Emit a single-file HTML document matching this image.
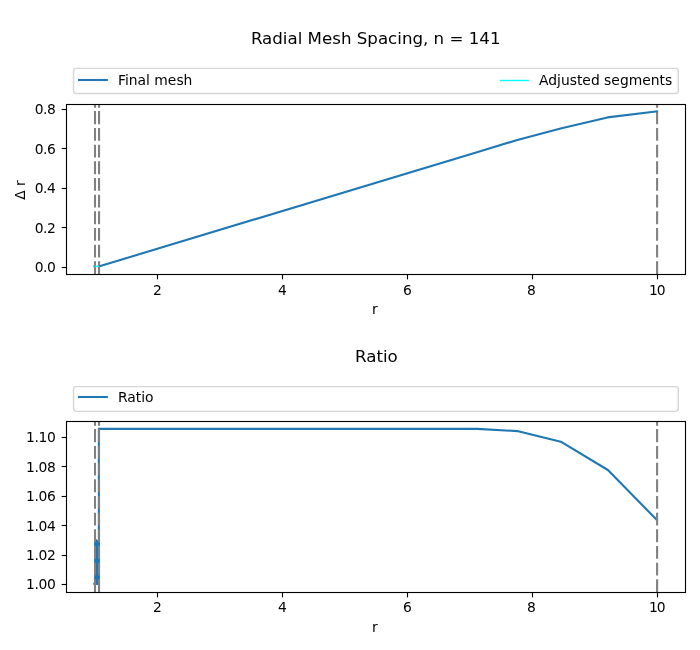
<!DOCTYPE html>
<html><head><meta charset="utf-8"><title>Radial Mesh Spacing</title>
<style>html,body{margin:0;padding:0;background:#fff}svg{display:block}</style></head>
<body>
<svg width="700" height="650" viewBox="0 0 700 650" font-family='"DejaVu Sans","Liberation Sans",sans-serif' fill="#000">
<rect width="700" height="650" fill="#fff"/>
<text x="375.7" y="43.6" font-size="16.667" text-anchor="middle">Radial Mesh Spacing, n = 141</text>
<clipPath id="c104"><rect x="66.5" y="104.5" width="619.0" height="170.0"/></clipPath>
<g clip-path="url(#c104)" fill="none">
<path d="M95 274.2V104.5" stroke="#808080" stroke-width="2.08" stroke-dasharray="12.9 3.767 12.9 3.767 12.9 3.767 12.9 3.767 12.9 3.767 12.9 3.767 12.9 3.767 12.9 3.767 12.9 3.767 13.2 3.2 20 0"/>
<path d="M99.05 274.2V104.5" stroke="#808080" stroke-width="2.08" stroke-dasharray="12.9 3.767 12.9 3.767 12.9 3.767 12.9 3.767 12.9 3.767 12.9 3.767 12.9 3.767 12.9 3.767 12.9 3.767 13.2 3.2 20 0"/>
<path d="M657.1 274.2V104.5" stroke="#808080" stroke-width="2.08" stroke-dasharray="12.9 3.767 12.9 3.767 12.9 3.767 12.9 3.767 12.9 3.767 12.9 3.767 12.9 3.767 12.9 3.767 12.9 3.767 13.2 3.2 20 0"/>
<polyline points="99.50,266.25 477.80,151.93 517.30,140.00 561.60,128.20 607.50,117.40 657.90,111.16" stroke="#1f77b4" stroke-width="2.08" stroke-linecap="butt" stroke-linejoin="round"/>
<path d="M93.3 266.4h1.4" stroke="#1f77b4" stroke-width="1.9" stroke-opacity="0.75"/><path d="M93.9 266.4Q96.7 264.75 99.6 266.4Q96.7 268.05 93.9 266.4Z" fill="#00ffff"/>
</g>
<path d="M157.5 274.5v4.86" stroke="#000" stroke-width="1.11"/>
<text x="157.5" y="295" font-size="13.889" text-anchor="middle">2</text>
<path d="M282.5 274.5v4.86" stroke="#000" stroke-width="1.11"/>
<text x="282.5" y="295" font-size="13.889" text-anchor="middle">4</text>
<path d="M407.5 274.5v4.86" stroke="#000" stroke-width="1.11"/>
<text x="407.5" y="295" font-size="13.889" text-anchor="middle">6</text>
<path d="M532.5 274.5v4.86" stroke="#000" stroke-width="1.11"/>
<text x="531.4" y="295" font-size="13.889" text-anchor="middle">8</text>
<path d="M657.5 274.5v4.86" stroke="#000" stroke-width="1.11"/>
<text x="656.75" y="295" font-size="13.889" letter-spacing="-1.15" text-anchor="middle">10</text>
<path d="M66.5 109.5h-4.86" stroke="#000" stroke-width="1.11"/>
<text x="55.30" y="114" font-size="13.889" letter-spacing="-0.5" text-anchor="end">0.8</text>
<path d="M66.5 148.5h-4.86" stroke="#000" stroke-width="1.11"/>
<text x="55.30" y="154" font-size="13.889" letter-spacing="-0.5" text-anchor="end">0.6</text>
<path d="M66.5 188.5h-4.86" stroke="#000" stroke-width="1.11"/>
<text x="55.30" y="193" font-size="13.889" letter-spacing="-0.5" text-anchor="end">0.4</text>
<path d="M66.5 227.5h-4.86" stroke="#000" stroke-width="1.11"/>
<text x="55.30" y="233" font-size="13.889" letter-spacing="-0.5" text-anchor="end">0.2</text>
<path d="M66.5 267.5h-4.86" stroke="#000" stroke-width="1.11"/>
<text x="55.30" y="272" font-size="13.889" letter-spacing="-0.5" text-anchor="end">0.0</text>
<rect x="66.5" y="104.5" width="619.0" height="170.0" fill="none" stroke="#000" stroke-width="1.11"/>
<text x="374.90" y="313.70" font-size="13.889" text-anchor="middle">r</text>
<text transform="translate(24.85 190.0) rotate(-90)" font-size="13.889" text-anchor="middle">Δ r</text>
<rect x="73.5" y="68.4" width="604.8" height="25.05" rx="2.78" fill="#fff" fill-opacity="0.8" stroke="#ccc" stroke-opacity="0.8" stroke-width="1.39"/>
<path d="M79.06 80h27.78" stroke="#1f77b4" stroke-width="2.08" stroke-linecap="square" fill="none"/>
<text x="117.95" y="84.9" font-size="13.889">Final mesh</text>
<path d="M500.7 80.5h27.78" stroke="#00ffff" stroke-width="1.39" stroke-linecap="square" fill="none"/>
<text x="538.99" y="84.9" font-size="13.889">Adjusted segments</text>
<text x="376.4" y="361.7" font-size="16.667" text-anchor="middle">Ratio</text>
<clipPath id="c421"><rect x="66.5" y="421.5" width="619.0" height="171.0"/></clipPath>
<g clip-path="url(#c421)" fill="none">
<path d="M93.3 582.8V584.8H95.5L97 585H99.8V541H98.3L96.3 539.1L95.4 539.7L94.1 541.2V582.8Z" fill="#1f77b4"/><polyline points="98.85,584.50 98.85,428.85 477.30,428.85 517.20,431.10 560.80,441.70 607.90,470.00 656.70,519.80" stroke="#1f77b4" stroke-width="2.08" stroke-linecap="butt" stroke-linejoin="round"/>
<path d="M95 592.2V421.5" stroke="#808080" stroke-width="2.08" stroke-dasharray="12.9 3.767 12.9 3.767 12.9 3.767 12.9 3.767 12.9 3.767 12.9 3.767 12.9 3.767 12.9 3.767 12.9 3.767 13.2 3.2 20 0"/>
<path d="M99.05 592.2V421.5" stroke="#808080" stroke-width="2.08" stroke-dasharray="12.9 3.767 12.9 3.767 12.9 3.767 12.9 3.767 12.9 3.767 12.9 3.767 12.9 3.767 12.9 3.767 12.9 3.767 13.2 3.2 20 0"/>
<path d="M657.1 592.2V421.5" stroke="#808080" stroke-width="2.08" stroke-dasharray="12.9 3.767 12.9 3.767 12.9 3.767 12.9 3.767 12.9 3.767 12.9 3.767 12.9 3.767 12.9 3.767 12.9 3.767 13.2 3.2 20 0"/>
</g>
<path d="M157.5 592.5v4.86" stroke="#000" stroke-width="1.11"/>
<text x="157.5" y="612" font-size="13.889" text-anchor="middle">2</text>
<path d="M282.5 592.5v4.86" stroke="#000" stroke-width="1.11"/>
<text x="282.5" y="612" font-size="13.889" text-anchor="middle">4</text>
<path d="M407.5 592.5v4.86" stroke="#000" stroke-width="1.11"/>
<text x="407.5" y="612" font-size="13.889" text-anchor="middle">6</text>
<path d="M532.5 592.5v4.86" stroke="#000" stroke-width="1.11"/>
<text x="531.4" y="612" font-size="13.889" text-anchor="middle">8</text>
<path d="M657.5 592.5v4.86" stroke="#000" stroke-width="1.11"/>
<text x="656.75" y="612" font-size="13.889" letter-spacing="-1.15" text-anchor="middle">10</text>
<path d="M66.5 437.5h-4.86" stroke="#000" stroke-width="1.11"/>
<text x="55.47" y="442" font-size="13.889" letter-spacing="-0.33" text-anchor="end">1.10</text>
<path d="M66.5 466.5h-4.86" stroke="#000" stroke-width="1.11"/>
<text x="55.47" y="472" font-size="13.889" letter-spacing="-0.33" text-anchor="end">1.08</text>
<path d="M66.5 496.5h-4.86" stroke="#000" stroke-width="1.11"/>
<text x="55.47" y="501" font-size="13.889" letter-spacing="-0.33" text-anchor="end">1.06</text>
<path d="M66.5 525.5h-4.86" stroke="#000" stroke-width="1.11"/>
<text x="55.47" y="531" font-size="13.889" letter-spacing="-0.33" text-anchor="end">1.04</text>
<path d="M66.5 555.5h-4.86" stroke="#000" stroke-width="1.11"/>
<text x="55.47" y="560" font-size="13.889" letter-spacing="-0.33" text-anchor="end">1.02</text>
<path d="M66.5 584.5h-4.86" stroke="#000" stroke-width="1.11"/>
<text x="55.47" y="589" font-size="13.889" letter-spacing="-0.33" text-anchor="end">1.00</text>
<rect x="66.5" y="421.5" width="619.0" height="171.0" fill="none" stroke="#000" stroke-width="1.11"/>
<text x="374.90" y="631.70" font-size="13.889" text-anchor="middle">r</text>
<rect x="73.5" y="386.6" width="604.8" height="24.8" rx="2.78" fill="#fff" fill-opacity="0.8" stroke="#ccc" stroke-opacity="0.8" stroke-width="1.39"/>
<path d="M79.06 397h27.78" stroke="#1f77b4" stroke-width="2.08" stroke-linecap="square" fill="none"/>
<text x="117.95" y="402" font-size="13.889">Ratio</text>
</svg>
</body></html>
